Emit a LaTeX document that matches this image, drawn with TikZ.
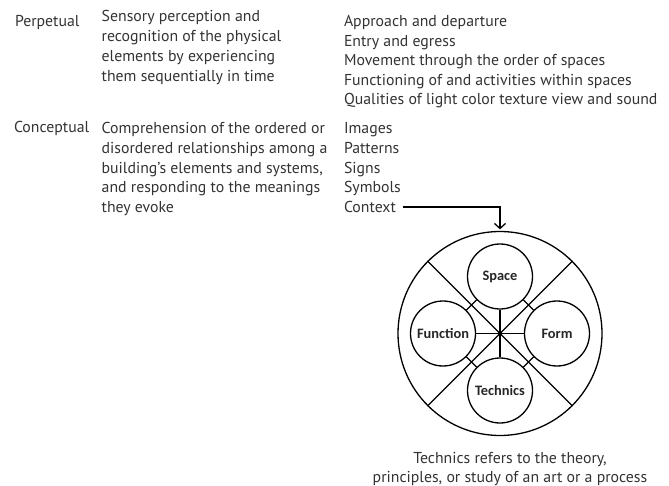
\documentclass[tikz,border=0pt]{standalone}
\usepackage{fontspec}
\setmainfont{PT Sans}
\newfontfamily\lblfont{Carlito}
\usetikzlibrary{arrows.meta}

\begin{document}
\begin{tikzpicture}[x=1pt,y=-1pt,
  line/.style={draw=black,line width=1.3pt},
  txt/.style={text=black!80,anchor=base west,inner sep=0pt,outer sep=0pt,font=\fontsize{15.8}{19.6}\selectfont},
  part/.style={circle,draw=black,line width=1.3pt,minimum size=65pt,inner sep=0pt,text=black!85,font=\lblfont\bfseries\fontsize{14.4}{16}\selectfont}]
\path[use as bounding box] (0,0) rectangle (669,486);

% headings
\node[txt] (perpetual) at (15,26.5) {Perpetual};
\node[txt] (conceptual) at (14,133) {Conceptual};

% perpetual row
\foreach \t [count=\i] in {Sensory perception and, recognition of the physical, elements by experiencing, them sequentially in time}
  \node[txt] (sense\i) at (101.7,{22+19.8*(\i-1)}) {\t};
\foreach \t [count=\i] in {Approach and departure, Entry and egress, Movement through the order of spaces, Functioning of and activities within spaces, Qualities of light color texture view and sound}
  \node[txt] (percept\i) at (344,{26.5+19.6*(\i-1)}) {\t};

% conceptual row
\foreach \t [count=\i] in {Comprehension of the ordered or, disordered relationships among a, {building’s elements and systems,}, and responding to the meanings, they evoke}
  \node[txt] (grasp\i) at (101.7,{134+19.6*(\i-1)}) {\t};
\foreach \t [count=\i] in {Images, Patterns, Signs, Symbols, Context}
  \node[txt] (concept\i) at (344,{134+19.6*(\i-1)}) {\t};

% architecture wheel
\node[circle,line,minimum size=204pt,inner sep=0pt] (whole) at (500,333.5) {};
\node[part] (space) at (500,276.5) {Space};
\node[part] (function) at (443,333.5) {Function};
\node[part] (form) at (557,333.5) {Form};
\node[part] (technics) at (500,390.5) {Technics};

\draw[line] (whole.135) -- (whole.-45);
\draw[line] (whole.45) -- (whole.-135);
\draw[line] (function) -- (form);
\draw[line] (space) -- (technics);
\draw[line] (space) -- (function);
\draw[line] (space) -- (form);
\draw[line] (technics) -- (function);
\draw[line] (technics) -- (form);
\fill (whole.center) circle (2.2pt);

\draw[line,-{Straight Barb[length=5pt,width=11pt]},shorten >=1.5pt] ([xshift=7pt]concept5.east) -| (whole.north);

% note
\foreach \t [count=\i] in {{Technics refers to the theory,}, {principles, or study of an art or a process}}
  \node[txt,anchor=base] (note\i) at (510,{463+19*(\i-1)}) {\t};
\end{tikzpicture}
\end{document}
